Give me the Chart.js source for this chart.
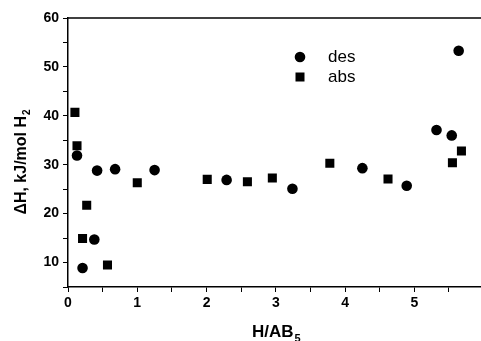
<!DOCTYPE html>
<html>
<head>
<meta charset="utf-8">
<script src="https://cdn.jsdelivr.net/npm/chart.js@4/dist/chart.umd.min.js"></script>
<style>
html,body{margin:0;padding:0;background:#fff;overflow:hidden;width:481px;height:341px;}
canvas{display:block;}
</style>
</head>
<body>
<canvas id="c" width="490" height="341"></canvas>
<script>
// Data
const desX = [0.13, 0.21, 0.38, 0.42, 0.68, 1.25, 2.29, 3.24, 4.25, 4.89, 5.32, 5.54, 5.64];
const desY = [31.9, 8.9, 14.7, 28.8, 29.1, 28.9, 26.9, 25.1, 29.3, 25.7, 37.1, 36.0, 53.3];
const absX = [0.10, 0.13, 0.27, 0.21, 0.57, 1.00, 2.01, 2.59, 2.95, 3.78, 4.62, 5.55, 5.68];
const absY = [40.7, 33.9, 21.7, 14.9, 9.5, 26.3, 27.0, 26.5, 27.3, 30.3, 27.1, 30.4, 32.8];
const xTickLabels = ['0', '1', '2', '3', '4', '5'];
const yTickLabels = ['10', '20', '30', '40', '50', '60'];
const seriesNames = ['des', 'abs'];

const toPts = (xs, ys) => xs.map((x, i) => ({x: x, y: ys[i]}));

const decor = {
  id: 'decor',
  afterDraw(chart) {
    const ctx = chart.ctx;
    const a = chart.chartArea;
    ctx.save();
    // top frame line
    ctx.strokeStyle = '#000';
    ctx.lineWidth = 1.5;
    ctx.beginPath();
    ctx.moveTo(a.left, a.top);
    ctx.lineTo(a.right, a.top);
    ctx.stroke();

    // legend
    ctx.fillStyle = '#000';
    ctx.font = '17px Arial, "Liberation Sans", sans-serif';
    ctx.textBaseline = 'middle';
    ctx.textAlign = 'left';
    ctx.beginPath();
    ctx.arc(300, 57, 5.3, 0, Math.PI * 2);
    ctx.fill();
    ctx.fillText(seriesNames[0], 328, 57);
    ctx.fillRect(295.5, 72.5, 9, 9);
    ctx.fillText(seriesNames[1], 328, 77);

    // x axis title with subscript
    ctx.font = 'bold 17px Arial, "Liberation Sans", sans-serif';
    ctx.textBaseline = 'alphabetic';
    const main = 'H/AB';
    const wMain = ctx.measureText(main).width;
    ctx.font = 'bold 11px Arial, "Liberation Sans", sans-serif';
    const wSub = ctx.measureText('5').width;
    const cx = (a.left + a.right) / 2;
    let sx = cx - (wMain + wSub) / 2;
    ctx.font = 'bold 17px Arial, "Liberation Sans", sans-serif';
    ctx.fillText(main, sx, 337);
    ctx.font = 'bold 11px Arial, "Liberation Sans", sans-serif';
    ctx.fillText('5', sx + wMain + 1, 342);

    // y axis title with subscript (rotated)
    ctx.translate(26, (a.top + a.bottom) / 2 + 10);
    ctx.rotate(-Math.PI / 2);
    ctx.font = 'bold 16px Arial, "Liberation Sans", sans-serif';
    const yMain = '\u0394H, kJ/mol H';
    const wy = ctx.measureText(yMain).width;
    ctx.font = 'bold 10px Arial, "Liberation Sans", sans-serif';
    const wy2 = ctx.measureText('2').width;
    let sy = -(wy + wy2) / 2;
    ctx.font = 'bold 16px Arial, "Liberation Sans", sans-serif';
    ctx.fillText(yMain, sy, 0);
    ctx.font = 'bold 10px Arial, "Liberation Sans", sans-serif';
    ctx.fillText('2', sy + wy + 1, 4);
    ctx.restore();
  }
};

new Chart(document.getElementById('c'), {
  type: 'scatter',
  data: {
    datasets: [
      {
        label: seriesNames[0],
        data: toPts(desX, desY),
        pointStyle: 'circle',
        pointRadius: 5.3,
        pointHoverRadius: 5.3,
        backgroundColor: '#000',
        borderColor: '#000',
        borderWidth: 0
      },
      {
        label: seriesNames[1],
        data: toPts(absX, absY),
        pointStyle: 'rect',
        pointRadius: 6.4,
        pointHoverRadius: 6.4,
        backgroundColor: '#000',
        borderColor: '#000',
        borderWidth: 0
      }
    ]
  },
  options: {
    responsive: false,
    animation: false,
    events: [],
    layout: {padding: {top: 18, right: 2.5, left: 0, bottom: 0}},
    plugins: {legend: {display: false}, tooltip: {enabled: false}},
    scales: {
      x: {
        type: 'linear',
        min: 0,
        max: 6,
        afterFit(s) { s.height = 54; },
        afterBuildTicks(s) {
          const t = [];
          for (let v = 0; v <= 5.5 + 1e-9; v += 0.5) t.push({value: v});
          s.ticks = t;
        },
        ticks: {
          autoSkip: false,
          maxRotation: 0,
          padding: 3,
          color: '#000',
          font: {family: 'Arial, "Liberation Sans", sans-serif', size: 14, weight: 'bold'},
          callback: (v) => Number.isInteger(v) ? xTickLabels[v] : ''
        },
        grid: {drawOnChartArea: false, drawTicks: true, tickLength: 5, color: '#000', lineWidth: 1},
        border: {color: '#000', width: 1.5}
      },
      y: {
        type: 'linear',
        min: 5,
        max: 60,
        afterFit(s) { s.width = 68; },
        afterBuildTicks(s) {
          const t = [];
          for (let v = 5; v <= 60; v += 5) t.push({value: v});
          s.ticks = t;
        },
        ticks: {
          autoSkip: false,
          padding: 4,
          color: '#000',
          font: {family: 'Arial, "Liberation Sans", sans-serif', size: 14, weight: 'bold'},
          callback: (v) => (v % 10 === 0) ? yTickLabels[v / 10 - 1] : ''
        },
        grid: {drawOnChartArea: false, drawTicks: true, tickLength: 5, color: '#000', lineWidth: 1},
        border: {color: '#000', width: 1.5}
      }
    }
  },
  plugins: [decor]
});
</script>
</body>
</html>
